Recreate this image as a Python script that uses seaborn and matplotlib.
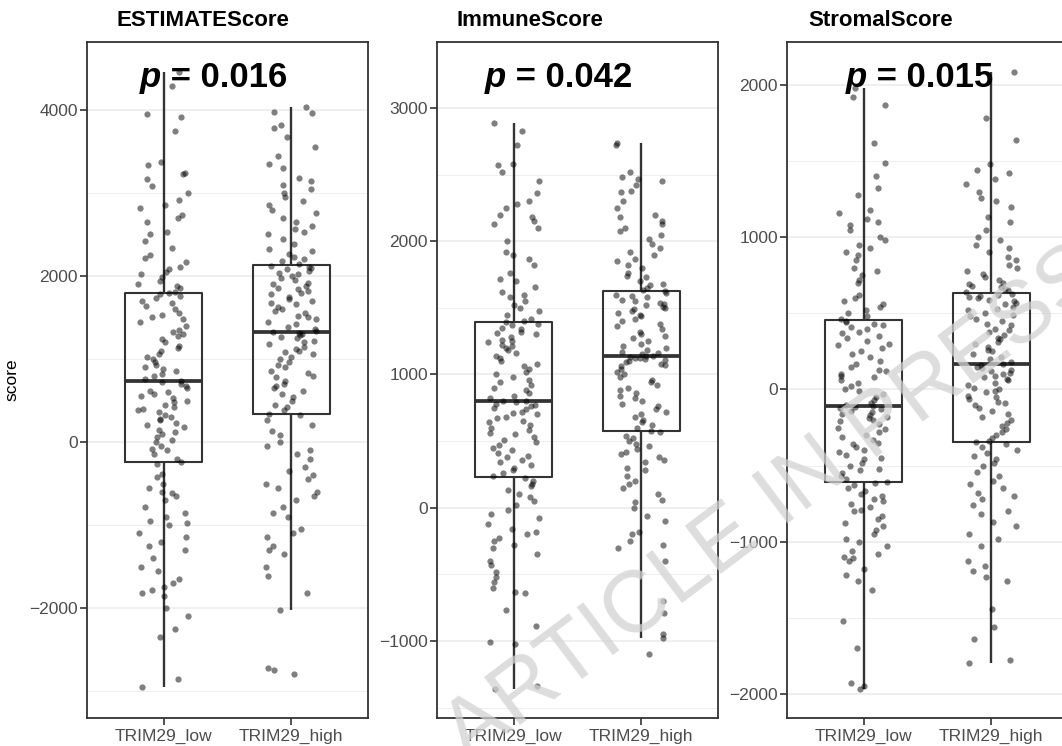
import numpy as np
import pandas as pd
import matplotlib
matplotlib.use("Agg")
import matplotlib.pyplot as plt
import seaborn as sns
from matplotlib.ticker import FixedLocator

# ---------------- data ----------------
groups = ["TRIM29_low", "TRIM29_high"]
panel_titles = ["ESTIMATEScore", "ImmuneScore", "StromalScore"]
p_values = ["0.016", "0.042", "0.015"]

estimate_low = [
    -2950, -2850, -2350, -2250, -2100, -2000, -1850, -1820, -1780, -1750, -1700, -1650,
    -1550, -1500, -1400, -1300, -1250, -1200, -1150, -1100, -1000, -980, -950, -900,
    -850, -780, -700, -650, -620, -600, -550, -500, -420, -380, -260,
    -240, -200, -150, -100, -80, -50, 0, 30, 60, 100, 120, 150, 180, 200, 230, 260,
    280, 300, 330, 360, 380, 400, 420, 450, 480, 500, 530, 560, 580, 600, 620, 650,
    680, 700, 725,
    735, 760, 790, 820, 850, 880, 900, 930, 960, 1000, 1030, 1060, 1100, 1130, 1160,
    1200, 1240, 1280, 1300, 1320, 1350, 1400, 1450, 1480, 1500, 1530, 1560, 1600,
    1640, 1680, 1700, 1730, 1760, 1780, 1795,
    1810, 1850, 1880, 1900, 1940, 1990, 2020, 2050, 2080, 2110, 2170, 2220, 2250,
    2340, 2420, 2510, 2530, 2650, 2700, 2740, 2820, 2850, 2910, 3000, 3080, 3170,
    3230, 3240, 3340, 3370, 3750, 3910, 3950, 4290, 4460,
]
estimate_high = [
    -2800, -2750, -2720, -2020, -1820, -1620, -1500, -1350, -1300, -1250, -1150, -1100,
    -1050, -900, -850, -780, -700, -650, -600, -550, -500, -450, -400, -350, -300,
    -200, -150, -100, -50, 0, 80, 130, 200, 260, 320,
    340, 380, 420, 450, 500, 540, 580, 620, 650, 680, 700, 740, 780, 800, 830, 860,
    900, 930, 960, 1000, 1030, 1060, 1080, 1100, 1120, 1150, 1180, 1200, 1220, 1250,
    1270, 1290, 1300, 1310, 1325,
    1335, 1360, 1390, 1420, 1450, 1480, 1500, 1520, 1550, 1580, 1600, 1630, 1660,
    1680, 1700, 1720, 1750, 1780, 1800, 1820, 1840, 1860, 1880, 1900, 1920, 1950,
    1980, 2000, 2020, 2040, 2060, 2080, 2100, 2110, 2125,
    2140, 2180, 2200, 2230, 2270, 2300, 2330, 2380, 2450, 2500, 2530, 2570, 2600,
    2650, 2700, 2760, 2800, 2850, 2900, 2950, 3000, 3050, 3100, 3150, 3180, 3300,
    3350, 3450, 3560, 3680, 3780, 3820, 3960, 3980, 4030,
]
immune_low = [
    -1357, -1340, -1020, -1005, -890, -770, -640, -630, -600, -560, -520, -480, -430,
    -400, -350, -300, -280, -250, -230, -200, -180, -160, -120, -80, -50, -20, 20, 50,
    80, 100, 130, 160, 180, 200, 225,
    235, 260, 280, 300, 320, 340, 360, 380, 390, 410, 430, 450, 470, 490, 510, 530,
    550, 560, 580, 600, 620, 640, 650, 670, 680, 700, 710, 720, 740, 750, 760, 770,
    780, 790, 798,
    802, 820, 840, 860, 880, 900, 920, 940, 960, 980, 1000, 1020, 1040, 1060, 1080,
    1100, 1120, 1140, 1160, 1180, 1200, 1210, 1220, 1240, 1250, 1260, 1280, 1300,
    1310, 1320, 1340, 1350, 1370, 1380, 1395,
    1405, 1420, 1450, 1480, 1500, 1520, 1550, 1580, 1600, 1620, 1660, 1700, 1720,
    1760, 1820, 1870, 1900, 1920, 2000, 2100, 2130, 2150, 2180, 2200, 2250, 2280,
    2300, 2360, 2450, 2520, 2570, 2580, 2720, 2830, 2890,
]
immune_high = [
    -1100, -980, -950, -790, -700, -400, -300, -280, -250, -200, -180, -100, -60, 0,
    40, 60, 100, 150, 180, 200, 240, 280, 300, 340, 360, 380, 400, 420, 440, 460, 480,
    500, 520, 540, 565,
    575, 600, 620, 640, 660, 680, 700, 720, 740, 760, 780, 800, 820, 840, 860, 880,
    900, 920, 940, 960, 980, 1000, 1020, 1040, 1060, 1070, 1080, 1090, 1100, 1110,
    1115, 1120, 1125, 1130, 1138,
    1142, 1150, 1160, 1170, 1180, 1200, 1210, 1230, 1250, 1270, 1290, 1300, 1320,
    1340, 1360, 1380, 1400, 1420, 1440, 1450, 1460, 1480, 1490, 1500, 1510, 1520,
    1530, 1540, 1550, 1560, 1580, 1590, 1600, 1610, 1625,
    1635, 1650, 1670, 1680, 1700, 1730, 1740, 1760, 1800, 1820, 1850, 1870, 1900,
    1920, 1950, 1980, 2020, 2050, 2080, 2100, 2130, 2150, 2180, 2200, 2250, 2300,
    2370, 2380, 2420, 2450, 2470, 2480, 2520, 2720, 2740,
]
stromal_low = [
    -1965, -1950, -1930, -1700, -1520, -1320, -1260, -1220, -1180, -1130, -1110, -1100,
    -1080, -1060, -1030, -1000, -980, -950, -920, -900, -880, -850, -830, -800, -790,
    -770, -750, -730, -720, -700, -690, -670, -650, -630, -612,
    -605, -590, -570, -550, -530, -520, -500, -480, -460, -450, -430, -410, -400, -380,
    -360, -350, -330, -310, -300, -280, -260, -250, -230, -210, -200, -190, -180, -170,
    -160, -150, -140, -130, -120, -115, -108,
    -104, -90, -70, -50, -30, -10, 0, 20, 40, 60, 80, 90, 100, 120, 130, 150, 170, 190,
    210, 230, 250, 270, 290, 300, 320, 340, 350, 370, 380, 400, 410, 420, 430, 440, 452,
    460, 480, 500, 520, 540, 560, 580, 600, 620, 700, 720, 750, 780, 800, 850, 880, 900,
    930, 950, 980, 1000, 1050, 1080, 1100, 1120, 1160, 1180, 1280, 1320, 1400, 1490,
    1620, 1870, 1920, 1978,
]
stromal_high = [
    -1800, -1780, -1640, -1560, -1440, -1260, -1230, -1190, -1160, -1130, -1030, -980,
    -950, -900, -870, -820, -800, -760, -720, -700, -680, -650, -620, -600, -570, -540,
    -500, -480, -460, -440, -420, -400, -380, -360, -348,
    -340, -320, -300, -280, -260, -240, -220, -200, -180, -160, -140, -120, -100, -90,
    -80, -60, -50, -40, -20, -10, 0, 10, 30, 40, 60, 70, 80, 90, 100, 110, 120, 130,
    140, 150, 162,
    170, 180, 200, 210, 230, 250, 260, 280, 300, 310, 330, 340, 360, 380, 390, 400, 420,
    430, 450, 460, 480, 490, 500, 520, 530, 540, 560, 570, 580, 590, 600, 610, 615, 620,
    630,
    640, 650, 660, 670, 680, 690, 700, 720, 740, 760, 780, 800, 820, 850, 870, 900, 930,
    950, 980, 1000, 1050, 1100, 1130, 1200, 1240, 1260, 1300, 1350, 1380, 1420, 1440,
    1480, 1640, 1780, 2088,
]

panel_data = [(estimate_low, estimate_high), (immune_low, immune_high), (stromal_low, stromal_high)]
y_major = [[-2000, 0, 2000, 4000], [-1000, 0, 1000, 2000, 3000], [-2000, -1000, 0, 1000, 2000]]
y_minor = [[-3000, -1000, 1000, 3000], [-1500, -500, 500, 1500, 2500], [-1500, -500, 500, 1500]]
y_limits = [(-3325, 4819), (-1578, 3495), (-2158, 2282)]

# ---------------- layout ----------------
W, H = 1062, 746
panel_left_px = [87, 437, 787]
panel_w_px = 281
panel_top_px, panel_bot_px = 42, 718
title_x_px = [117, 457, 808]
p_split = [0.262, 0.247, 0.283]

sns.set_theme(style="white")
plt.rcParams["font.family"] = ["Liberation Sans", "DejaVu Sans"]

fig = plt.figure(figsize=(W / 100, H / 100), dpi=100)
np.random.seed(7)

for i in range(3):
    low, high = panel_data[i]
    df = pd.DataFrame({
        "group": [groups[0]] * len(low) + [groups[1]] * len(high),
        "score": low + high,
    })
    ax = fig.add_axes([panel_left_px[i] / W, (H - panel_bot_px) / H,
                       panel_w_px / W, (panel_bot_px - panel_top_px) / H])
    ax.set_axisbelow(True)
    ax.yaxis.set_major_locator(FixedLocator(y_major[i]))
    ax.yaxis.set_minor_locator(FixedLocator(y_minor[i]))
    ax.grid(axis="y", which="major", color="#EBEBEB", linewidth=1.1)
    ax.grid(axis="y", which="minor", color="#EBEBEB", linewidth=0.6)
    ax.grid(axis="x", which="major", color="#EBEBEB", linewidth=1.1)

    sns.boxplot(data=df, x="group", y="score", order=groups, width=0.6, fill=False,
                color="#333333", linewidth=1.5, showfliers=False, whis=1.5,
                showcaps=False,
                medianprops=dict(linewidth=2.7, color="#333333"),
                whiskerprops=dict(linewidth=1.7, color="#333333"),
                ax=ax)
    sns.stripplot(data=df, x="group", y="score", order=groups, jitter=0.2,
                  color="black", alpha=0.5, size=4.5, linewidth=0, ax=ax)

    ax.set_xlim(-0.6, 1.6)
    ax.set_ylim(*y_limits[i])
    ax.set_xlabel("")
    ax.set_ylabel("")
    for s in ax.spines.values():
        s.set_visible(True)
        s.set_color("#333333")
        s.set_linewidth(1.3)
    ax.tick_params(axis="both", which="major", length=5, width=1.2, color="#333333",
                   labelcolor="#4D4D4D", labelsize=12.5, pad=1.5, left=True, bottom=True)
    ax.tick_params(axis="x", which="major", pad=3)
    ax.tick_params(axis="both", which="minor", length=0)

    fig.text(title_x_px[i] / W, 1 - 20 / H, panel_titles[i], fontsize=16,
             fontweight="bold", ha="left", va="center", color="black")
    ax.text(p_split[i], 0.933, "p", transform=ax.transAxes, fontsize=25,
            fontweight="bold", fontstyle="italic", ha="right", va="baseline",
            color="black")
    ax.text(p_split[i], 0.933, " = " + p_values[i], transform=ax.transAxes,
            fontsize=25, fontweight="bold", ha="left", va="baseline", color="black")

fig.text(12 / W, 1 - 380 / H, "score", rotation=90, ha="center", va="center",
         fontsize=12.5, color="black")

fig.text(775 / W, 1 - 505 / H, "ARTICLE IN PRESS", rotation=37, fontsize=63,
         color="#d2d2d2", alpha=0.75, ha="center", va="center",
         rotation_mode="anchor", zorder=20)

fig.savefig("out.png", dpi=100)
